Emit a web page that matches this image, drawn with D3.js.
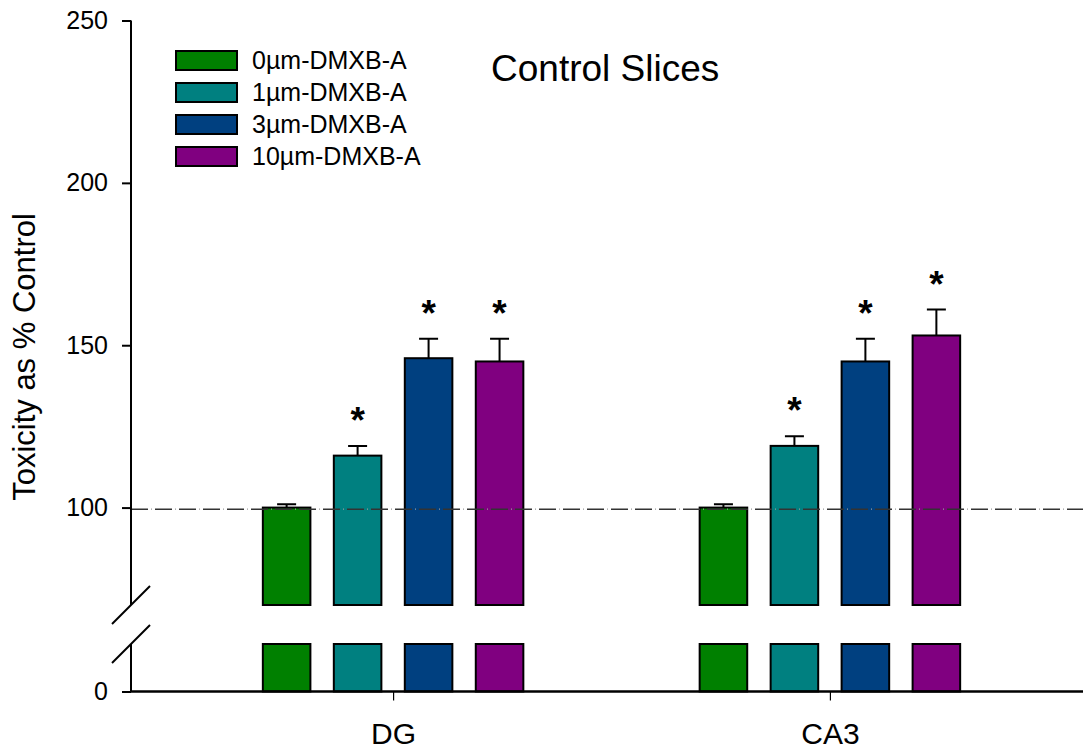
<!DOCTYPE html>
<html>
<head>
<meta http-equiv="Content-Type" content="text/html; charset=utf-8" />
<title>Control Slices</title>
<script type="text/javascript" src="https://cdn.jsdelivr.net/npm/d3@7/dist/d3.min.js"></script>
<style>
body{margin:0;padding:0;background:#fff;}
svg{display:block;font-family:"Liberation Sans",Arial,sans-serif;}
</style>
<script type="text/javascript">
//数据
var groups = ["DG", "CA3"];
var series = ["0µm-DMXB-A", "1µm-DMXB-A", "3µm-DMXB-A", "10µm-DMXB-A"];
var colors = ["#008000", "#008080", "#004080", "#800080"];
var dgMeans = [100, 116, 146, 145];
var dgErrors = [1, 3, 6, 7];
var dgStars = [false, true, true, true];
var ca3Means = [100, 119, 145, 153];
var ca3Errors = [1, 3, 7, 8];
var ca3Stars = [false, true, true, true];
var controlLevel = 99.5;
var topTicks = [100, 150, 200, 250];
var bottomTicks = [0];

function draw(){
	var width = 1083, height = 751;
	var left = 131, right = 1092;
	var svg = d3.select("#chart").attr("width", width).attr("height", height);

	var x = d3.scalePoint().domain(groups).range([left, right]).padding(0.6);
	var xs = d3.scaleBand().domain(series).range([-130.25, 130.25]).paddingInner(0.33);
	//断轴: 上段 70-250, 下段 0-15
	var yTop = d3.scaleLinear().domain([70, 250]).range([605, 20.5]);
	var yBot = d3.scaleLinear().domain([0, 15]).range([691.5, 644]);

	var rows = [];
	for(var i=0;i<series.length;i++){
		rows.push({g:"DG", s:series[i], c:colors[i], v:dgMeans[i], e:dgErrors[i], star:dgStars[i]});
		rows.push({g:"CA3", s:series[i], c:colors[i], v:ca3Means[i], e:ca3Errors[i], star:ca3Stars[i]});
	}

	var gBars = svg.append("g");
	//上段柱
	gBars.selectAll("rect.top").data(rows).enter().append("rect")
		.attr("class", "top")
		.attr("x", function(d){ return x(d.g) + xs(d.s); })
		.attr("width", xs.bandwidth())
		.attr("y", function(d){ return yTop(d.v); })
		.attr("height", function(d){ return yTop.range()[0] - yTop(d.v); })
		.style("fill", function(d){ return d.c; })
		.style("stroke", "#000").style("stroke-width", "2px");
	//下段柱
	gBars.selectAll("rect.bot").data(rows).enter().append("rect")
		.attr("class", "bot")
		.attr("x", function(d){ return x(d.g) + xs(d.s); })
		.attr("width", xs.bandwidth())
		.attr("y", yBot(15))
		.attr("height", yBot(0) - yBot(15))
		.style("fill", function(d){ return d.c; })
		.style("stroke", "#000").style("stroke-width", "2px");
	//对照虚线(压在柱上)
	svg.append("line")
		.attr("x1", left).attr("x2", width)
		.attr("y1", yTop(controlLevel)).attr("y2", yTop(controlLevel))
		.style("stroke", "#333").style("stroke-width", "1.6px").style("stroke-dasharray", "17,7");
	svg.append("line")
		.attr("x1", left).attr("x2", width)
		.attr("y1", yTop(controlLevel)).attr("y2", yTop(controlLevel))
		.style("stroke", "#999").style("stroke-width", "1.2px").style("stroke-dasharray", "1,23")
		.style("stroke-dashoffset", "-20");
	//误差线
	var cap = 9.5;
	gBars.selectAll("path.err").data(rows).enter().append("path")
		.attr("d", function(d){
			var cx = x(d.g) + xs(d.s) + xs.bandwidth()/2;
			var y0 = yTop(d.v), y1 = yTop(d.v + d.e);
			return "M"+cx+","+y0+" V"+y1+" M"+(cx-cap)+","+y1+" H"+(cx+cap);
		})
		.style("stroke", "#000").style("stroke-width", "2px").style("fill", "none");
	//星号
	gBars.selectAll("text.star").data(rows.filter(function(d){ return d.star; })).enter().append("text")
		.attr("x", function(d){ return x(d.g) + xs(d.s) + xs.bandwidth()/2; })
		.attr("y", function(d){ return yTop(d.v + d.e) - 13; })
		.style("text-anchor", "middle").style("font-size", "37px").style("font-weight", "bold")
		.text("*");

	//y轴
	var axTop = svg.append("g").attr("transform", "translate("+left+",0)")
		.call(d3.axisLeft(yTop).tickValues(topTicks).tickSize(9).tickPadding(14));
	var axBot = svg.append("g").attr("transform", "translate("+left+",0)")
		.call(d3.axisLeft(yBot).tickValues(bottomTicks).tickSize(9).tickPadding(14));
	[axTop, axBot].forEach(function(a){
		a.select(".domain").remove();
		a.selectAll(".tick line").style("stroke", "#000").style("stroke-width", "2px");
		a.selectAll(".tick text").style("font-size", "25px").style("fill", "#000").style("font-family", "Liberation Sans, Arial, sans-serif");
	});
	svg.append("path").attr("d", "M"+left+","+yTop.range()[1]+" V"+yTop.range()[0])
		.style("stroke", "#000").style("stroke-width", "2px");
	svg.append("path").attr("d", "M"+left+","+yBot.range()[1]+" V"+yBot.range()[0])
		.style("stroke", "#000").style("stroke-width", "2px");
	//断点斜线
	[yTop.range()[0], yBot.range()[1]].forEach(function(yy){
		svg.append("path").attr("d", "M"+(left-19)+","+(yy+19)+" L"+(left+19)+","+(yy-19))
			.style("stroke", "#000").style("stroke-width", "2px");
	});

	//x轴
	var axX = svg.append("g").attr("transform", "translate(0,"+yBot(0)+")")
		.call(d3.axisBottom(x).tickSize(9).tickPadding(22));
	axX.select(".domain").remove();
	axX.selectAll(".tick line").style("stroke", "#000").style("stroke-width", "1.2px");
	axX.selectAll(".tick text").style("font-size", "30px").style("fill", "#000").style("font-family", "Liberation Sans, Arial, sans-serif");
	svg.append("path").attr("d", "M"+left+","+yBot(0)+" H"+width)
		.style("stroke", "#000").style("stroke-width", "2.5px");

	//y轴标题
	svg.append("text")
		.attr("transform", "translate(35,357) rotate(-90)")
		.style("text-anchor", "middle").style("font-size", "31px")
		.text("Toxicity as % Control");

	//标题
	svg.append("text").attr("x", 491).attr("y", 81)
		.style("font-size", "37px").text("Control Slices");

	//图例
	var lg = svg.append("g").attr("transform", "translate(176,51)");
	var items = lg.selectAll("g").data(series).enter().append("g")
		.attr("transform", function(d,i){ return "translate(0,"+(i*32)+")"; });
	items.append("rect").attr("width", 61).attr("height", 19)
		.style("fill", function(d,i){ return colors[i]; })
		.style("stroke", "#000").style("stroke-width", "2px");
	items.append("text").attr("x", 76).attr("y", 18)
		.style("font-size", "25px").text(function(d){ return d; });
}
window.onload = draw;
</script>
</head>
<body>
<svg id="chart"></svg>
</body>
</html>
